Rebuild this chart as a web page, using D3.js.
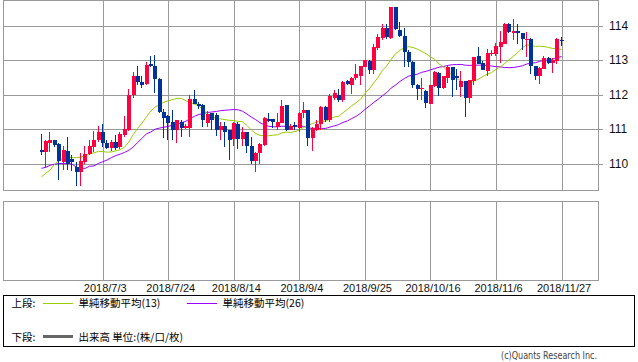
<!DOCTYPE html>
<html>
<head>
<meta charset="utf-8">
<title>USD/JPY candles</title>
<script src="https://d3js.org/d3.v7.min.js"></script>
<style>
  body { margin: 0; background: #fff; }
  svg { display: block; font-family: "DejaVu Sans", sans-serif; }
  .jp { font-family: "Noto Sans CJK JP", sans-serif; font-size: 10.5px; }
  .grid line { stroke: #999; shape-rendering: crispEdges; }
</style>
</head>
<body>
<script>
// daily candles, 2018/6/13 .. 2018/11/27 (weekdays)
var opens = [110.385,110.34,110.60,110.67,110.56,110.03,110.36,110.12,109.90,109.76,
  110.03,110.27,110.48,110.67,110.915,110.60,110.45,110.63,110.48,110.82,
  110.98,111.98,112.55,112.36,112.29,112.87,112.84,112.46,111.49,111.37,
  111.20,110.96,111.20,111.03,111.03,111.88,111.73,111.69,111.18,111.45,
  111.40,110.96,111.08,110.96,110.72,111.14,110.72,110.915,110.51,110.07,
  110.29,110.53,111.28,111.28,111.06,111.18,111.69,110.98,111.11,111.04,
  111.45,111.54,110.75,110.98,111.14,111.64,111.25,111.91,111.98,111.83,
  112.38,112.27,112.49,112.55,112.81,112.96,112.72,113.35,113.64,113.92,
  113.64,114.55,113.88,113.71,113.23,112.94,112.27,112.15,112.09,111.73,
  112.24,112.62,112.19,112.48,112.81,112.55,112.22,112.38,111.90,112.38,
  113.13,112.92,112.67,113.16,113.16,113.39,113.47,114.05,113.79,113.83,
  113.78,113.60,113.61,112.83,112.525,112.75,113.07,112.92,112.96,113.57]
var highs = [110.85,110.67,110.915,110.69,110.58,110.50,110.77,110.24,110.03,110.29,
  110.51,110.67,110.94,111.08,111.14,110.67,110.67,110.82,110.915,111.37,
  112.17,112.65,112.84,112.55,112.94,113.13,113.15,112.49,111.59,111.40,
  111.54,111.27,111.25,111.14,111.98,112.14,111.78,111.73,111.52,111.465,
  111.45,111.20,111.20,110.96,111.20,111.20,111.06,110.915,110.77,110.34,
  110.58,111.35,111.465,111.30,111.45,111.83,111.69,111.14,111.20,111.49,
  111.78,111.54,111.06,111.25,111.66,111.66,112.02,112.14,112.17,112.38,
  112.41,112.51,112.89,112.84,113.00,112.99,113.47,113.76,114.05,114.05,
  114.55,114.55,114.10,113.93,113.28,112.96,112.29,112.49,112.12,112.27,
  112.67,112.65,112.55,112.86,112.81,112.75,112.67,112.38,112.41,113.10,
  113.39,112.96,113.32,113.30,113.49,113.84,114.07,114.07,114.19,114.03,
  113.78,113.81,113.63,112.84,112.80,113.13,113.10,113.07,113.64,113.68]
var lows = [110.24,109.88,110.34,110.48,109.52,109.81,109.81,109.79,109.35,109.35,
  110.00,110.24,110.34,110.63,110.48,110.43,110.37,110.385,110.43,110.77,
  110.94,111.90,112.27,112.20,112.27,112.80,112.04,111.45,110.75,110.67,
  110.67,110.58,110.77,110.99,110.77,111.72,111.59,111.06,111.06,110.96,
  110.80,110.67,110.48,110.115,110.50,110.43,110.50,110.29,110.00,109.76,
  110.00,110.50,111.20,111.04,110.98,111.18,110.94,110.96,110.98,110.915,
  111.33,110.50,110.37,110.94,110.96,111.20,111.20,111.83,111.78,111.78,
  112.27,112.02,112.41,112.27,112.80,112.58,112.58,113.30,113.59,113.61,
  113.61,113.87,113.66,112.80,112.81,112.20,111.83,111.83,111.62,111.72,
  112.22,111.96,112.17,112.33,111.93,112.14,111.93,111.35,111.75,112.27,
  112.87,112.70,112.525,113.13,113.13,112.91,113.45,113.79,113.57,113.47,
  113.30,113.085,112.60,112.41,112.29,112.73,112.87,112.62,112.87,113.42]
var closes = [110.34,110.65,110.67,110.55,110.07,110.385,110.00,110.05,109.76,110.07,
  110.27,110.51,110.67,110.915,110.58,110.45,110.63,110.45,110.85,110.99,
  112.00,112.55,112.36,112.27,112.86,112.825,112.46,111.49,111.33,111.18,
  110.96,111.25,111.03,111.08,111.88,111.73,111.66,111.27,111.43,111.27,
  110.96,111.09,110.915,110.69,111.18,110.72,110.915,110.51,110.07,110.29,
  110.56,111.33,111.23,111.19,111.20,111.66,110.96,111.08,111.06,111.465,
  111.54,110.75,111.03,111.14,111.64,111.25,111.95,112.04,111.85,112.36,
  112.31,112.49,112.58,112.825,112.99,112.70,113.37,113.68,113.92,113.66,
  114.55,113.90,113.69,113.23,112.94,112.27,112.17,112.20,111.75,112.27,
  112.65,112.19,112.55,112.81,112.43,112.48,112.38,111.90,112.41,113.10,
  112.89,112.72,113.20,113.20,113.42,113.52,114.05,113.81,113.83,113.78,
  113.61,113.62,112.84,112.525,112.77,113.07,112.91,112.99,113.60,113.55]

// moving averages before enough closes exist
var ma13Head = [109.61,109.72,109.81,109.98,110.10,110.15,110.17,110.17,110.17,110.18,110.24,110.28]
var ma26Head = [109.86,109.89,109.95,109.98,110.00,110.00,110.00,109.98,109.89,109.86,
  109.86,109.92,109.93,110.00,110.05,110.10,110.17,110.23,110.27,110.32,
  110.385,110.48,110.61,110.73,110.86]

var priceTicks = [110, 111, 112, 113, 114]
var dateTicks = ['2018/7/3','2018/7/24','2018/8/14','2018/9/4','2018/9/25','2018/10/16','2018/11/6','2018/11/27']

var days = d3.utcDay.range(new Date(Date.UTC(2018,5,13)), new Date(Date.UTC(2018,10,28)))
             .filter(function(d){ return d.getUTCDay() % 6 !== 0 })
var fmt = d3.utcFormat('%Y/%-m/%-d')
var labels = days.map(fmt)

var data = labels.map(function(k, i){
  return {key: k, o: opens[i], h: highs[i], l: lows[i], c: closes[i]}
})

function sma(n, head){
  return closes.map(function(v, i){
    if (i < n - 1) return head[i]
    return d3.mean(closes.slice(i - n + 1, i + 1))
  })
}
var ma13 = sma(13, ma13Head)
var ma26 = sma(26, ma26Head)

var W = 638, H = 362
var panel = {left: 3, right: 598, top: 0, bottom: 190}
var lower = {top: 201, bottom: 280}

var svg = d3.select('body').append('svg').attr('width', W).attr('height', H)

var x = d3.scalePoint().domain(labels).range([41.5, 561.6])
var y = d3.scaleLinear().domain([110, 114]).range([163.5, 25.5])
var snap = function(v){ return Math.round(v) + 0.5 }

// horizontal grid + right labels
var yAxis = d3.axisRight(y).tickValues(priceTicks).tickSize(panel.right - panel.left + 5)
              .tickPadding(6).tickFormat(d3.format('d'))
var ya = svg.append('g').attr('class', 'grid')
   .attr('transform', 'translate(' + panel.left + ',0)')
   .call(yAxis)
ya.select('.domain').remove()
ya.selectAll('.tick').attr('transform', function(d){ return 'translate(0,' + (Math.round(y(d)) + 0.5) + ')' })
ya.selectAll('text').style('font-size', '12px').attr('fill', '#111')

// vertical grid in both panels
var vg = svg.append('g').attr('class', 'grid')
vg.selectAll('line.a').data(dateTicks).enter().append('line')
  .attr('x1', function(d){ return snap(x(d)) }).attr('x2', function(d){ return snap(x(d)) })
  .attr('y1', panel.top).attr('y2', panel.bottom)
vg.selectAll('line.b').data(dateTicks).enter().append('line')
  .attr('x1', function(d){ return snap(x(d)) }).attr('x2', function(d){ return snap(x(d)) })
  .attr('y1', lower.top).attr('y2', lower.bottom)

// panel borders
svg.append('rect').attr('x', panel.left + 0.5).attr('y', panel.top + 0.5)
   .attr('width', panel.right - panel.left).attr('height', panel.bottom - panel.top)
   .attr('fill', 'none').attr('stroke', '#999').style('shape-rendering', 'crispEdges')
svg.append('rect').attr('x', panel.left + 0.5).attr('y', lower.top + 0.5)
   .attr('width', panel.right - panel.left).attr('height', lower.bottom - lower.top)
   .attr('fill', 'none').attr('stroke', '#999').style('shape-rendering', 'crispEdges')

// moving averages
var line = d3.line().x(function(d, i){ return x(labels[i]) }).y(function(d){ return y(d) })
svg.append('path').datum(ma26).attr('d', line).attr('fill', 'none')
   .attr('stroke', '#9900ff').attr('stroke-width', 1)
svg.append('path').datum(ma13).attr('d', line).attr('fill', 'none')
   .attr('stroke', '#99cc00').attr('stroke-width', 1)

// candles
var upCol = '#ff0040', downCol = '#003399'
var cg = svg.append('g').style('shape-rendering', 'crispEdges')
var candle = cg.selectAll('g').data(data).enter().append('g')
candle.append('line')
  .attr('x1', function(d){ return Math.round(x(d.key) - 1.75) + 1.5 })
  .attr('x2', function(d){ return Math.round(x(d.key) - 1.75) + 1.5 })
  .attr('y1', function(d){ return y(d.h) }).attr('y2', function(d){ return y(d.l) })
  .attr('stroke', function(d){ return d.c >= d.o ? upCol : downCol })
candle.append('rect')
  .attr('x', function(d){ return Math.round(x(d.key) - 1.75) })
  .attr('width', 4)
  .attr('y', function(d){ return y(Math.max(d.o, d.c)) })
  .attr('height', function(d){ return Math.max(1, Math.abs(y(d.o) - y(d.c))) })
  .attr('fill', function(d){ return d.c >= d.o ? upCol : downCol })

// date labels
var xAxis = d3.axisBottom(x).tickValues(dateTicks).tickSize(0).tickPadding(4)
var xa = svg.append('g').attr('transform', 'translate(2,' + lower.bottom + ')').call(xAxis)
xa.select('.domain').remove()
xa.selectAll('text').style('font-size', '11px').attr('fill', '#111')

// legend box
var lg = svg.append('g')
lg.append('rect').attr('x', 3.5).attr('y', 295.5).attr('width', 631).attr('height', 51)
  .attr('fill', 'none').attr('stroke', '#000').style('shape-rendering', 'crispEdges')
lg.append('text').attr('class', 'jp').attr('x', 11.5).attr('y', 307).text('上段:')
lg.append('line').attr('x1', 43).attr('x2', 73).attr('y1', 303.5).attr('y2', 303.5)
  .attr('stroke', '#99cc00')
lg.append('text').attr('class', 'jp').attr('x', 78.5).attr('y', 307).text('単純移動平均(13)')
lg.append('line').attr('x1', 187).attr('x2', 217).attr('y1', 303.5).attr('y2', 303.5)
  .attr('stroke', '#9900ff')
lg.append('text').attr('class', 'jp').attr('x', 222.5).attr('y', 307).text('単純移動平均(26)')
lg.append('text').attr('class', 'jp').attr('x', 11.5).attr('y', 340.5).text('下段:')
lg.append('line').attr('x1', 43).attr('x2', 73).attr('y1', 336.5).attr('y2', 336.5)
  .attr('stroke', '#666').attr('stroke-width', 3)
lg.append('text').attr('class', 'jp').attr('x', 78.5).attr('y', 340.5).text('出来高 単位:(株/口/枚)')

svg.append('text').attr('x', 597).attr('y', 359).attr('text-anchor', 'end')
   .style('font-size', '10.5px').attr('fill', '#444')
   .attr('textLength', 96).attr('lengthAdjust', 'spacingAndGlyphs')
   .text('(c)Quants Research Inc.')
</script>
</body>
</html>
